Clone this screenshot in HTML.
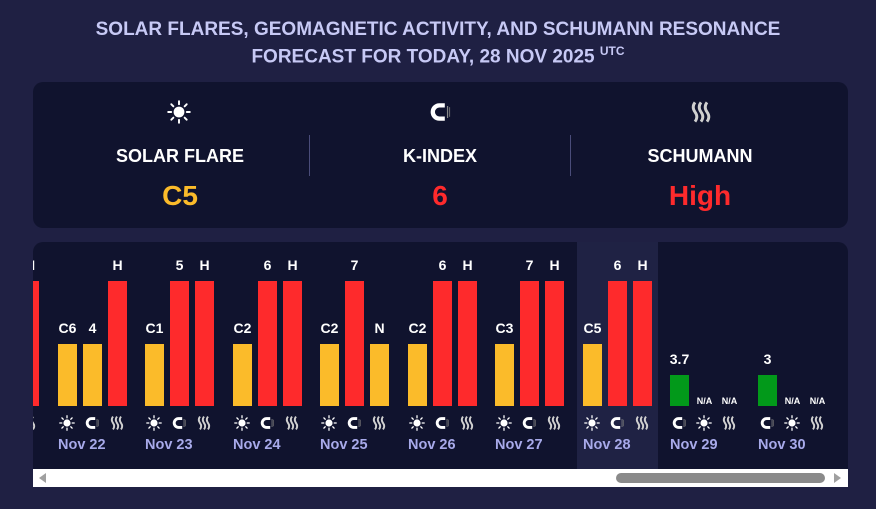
<!DOCTYPE html>
<html><head><style>
*{margin:0;padding:0;box-sizing:border-box}
body{width:876px;height:509px;background:#1f2043;font-family:"Liberation Sans",sans-serif;position:relative;overflow:hidden}
.a{position:absolute}
.t{position:absolute;left:0;width:876px;text-align:center;color:#c7c9f5;font-weight:bold;font-size:19px}
.p{position:absolute;background:#10132e}
.lab{position:absolute;color:#fff;font-weight:bold;font-size:14px;text-align:center;width:30px}
.na{position:absolute;color:#fff;font-weight:bold;font-size:9px;text-align:center;width:30px}
.bar{position:absolute;width:19px}
.y{background:#fbbb2a}.r{background:#fe2a2c}.g{background:#02991a}
.ic{position:absolute;width:20px;height:16px;top:415px}
.d{position:absolute;color:#a8aaea;font-weight:bold;font-size:14.5px;top:437px}
.hl{position:absolute;text-align:center;color:#fff;font-weight:bold;font-size:18px}
</style></head><body>
<svg width="0" height="0" style="position:absolute">
<defs>
<symbol id="sun" viewBox="0 0 20 20"><circle cx="10" cy="10" r="4.5" fill="#fff"/><g stroke="#fff" stroke-width="1.6" stroke-linecap="round"><line x1="10" y1="1" x2="10" y2="3.5"/><line x1="10" y1="16.5" x2="10" y2="19"/><line x1="1" y1="10" x2="3.5" y2="10"/><line x1="16.5" y1="10" x2="19" y2="10"/><line x1="3.6" y1="3.6" x2="5.3" y2="5.3"/><line x1="14.7" y1="14.7" x2="16.4" y2="16.4"/><line x1="3.6" y1="16.4" x2="5.3" y2="14.7"/><line x1="14.7" y1="5.3" x2="16.4" y2="3.6"/></g></symbol>
<symbol id="mag" viewBox="0 0 20 20"><path d="M14 4.5 H9.5 A5.5 5.5 0 0 0 9.5 15.5 H14" fill="none" stroke="#fff" stroke-width="3.6"/><line x1="16.3" y1="5" x2="16.3" y2="15" stroke="#888" stroke-width="1"/><line x1="18" y1="6" x2="18" y2="14" stroke="#777" stroke-width="0.8"/></symbol>
<symbol id="sch" viewBox="0 0 20 20"><g fill="none" stroke="#d0d0d0" stroke-width="2.4"><path d="M5 2 q-3 4 0 8 q3 4 0 8"/><path d="M10 2 q-3 4 0 8 q3 4 0 8"/><path d="M15 2 q-3 4 0 8 q3 4 0 8"/></g></symbol>
</defs></svg>
<div class="t" style="top:19px">SOLAR FLARES, GEOMAGNETIC ACTIVITY, AND SCHUMANN RESONANCE</div>
<div class="t" style="top:44px">FORECAST FOR TODAY, 28 NOV 2025 <sup style="font-size:12px">UTC</sup></div>

<div class="p" style="left:33px;top:82px;width:815px;height:146px;border-radius:10px"></div>
<div class="a" style="left:309px;top:135px;width:1px;height:41px;background:#4a4c7a"></div>
<div class="a" style="left:570px;top:135px;width:1px;height:41px;background:#4a4c7a"></div>
<svg class="a" style="left:167px;top:100px" width="24" height="24"><use href="#sun"/></svg>
<svg class="a" style="left:428px;top:100px" width="24" height="24"><use href="#mag"/></svg>
<svg class="a" style="left:689px;top:100px" width="24" height="24"><use href="#sch"/></svg>
<div class="hl" style="left:60px;width:240px;top:146px">SOLAR FLARE</div>
<div class="hl" style="left:320px;width:240px;top:146px">K-INDEX</div>
<div class="hl" style="left:580px;width:240px;top:146px">SCHUMANN</div>
<div class="hl" style="left:60px;width:240px;top:180px;font-size:28px;color:#fbbb2a">C5</div>
<div class="hl" style="left:320px;width:240px;top:180px;font-size:28px;color:#fe2a2c">6</div>
<div class="hl" style="left:580px;width:240px;top:180px;font-size:28px;color:#fe2a2c">High</div>

<div class="p" style="left:33px;top:242px;width:815px;height:227px;border-radius:10px 10px 0 0;overflow:hidden">
<div class="a" style="left:544px;top:0;width:81px;height:227px;background:#1f2244"></div>
<div class="bar r" style="left:0;top:39px;width:6px;height:125px"></div>
<div class="lab" style="left:-18px;top:15px">H</div>
<div class="ic" style="left:-14px;top:173px;width:20px"><svg width="20" height="16"><use href="#sch"/></svg></div>
</div>
<div id="g"></div>
<script>
var data=[["Nov 22",58,"C6","y",62,"4","y",62,"H","r",125],
["Nov 23",145,"C1","y",62,"5","r",125,"H","r",125],
["Nov 24",233,"C2","y",62,"6","r",125,"H","r",125],
["Nov 25",320,"C2","y",62,"7","r",125,"N","y",62],
["Nov 26",408,"C2","y",62,"6","r",125,"H","r",125],
["Nov 27",495,"C3","y",62,"7","r",125,"H","r",125],
["Nov 28",583,"C5","y",62,"6","r",125,"H","r",125]];
function ic(x,id){return '<svg class="ic" style="left:'+x+'px" width="20" height="16"><use href="#'+id+'"/></svg>';}
var h="";
data.forEach(function(d){var x=d[1];
for(var i=0;i<3;i++){var bx=x+25*i,ht=d[4+3*i];
h+='<div class="bar '+d[3+3*i]+'" style="left:'+bx+'px;top:'+(406-ht)+'px;height:'+ht+'px"></div>';
h+='<div class="lab" style="left:'+(bx-5.5)+'px;top:'+(406-ht-24)+'px">'+d[2+3*i]+'</div>';}
h+=ic(x-1,"sun")+ic(x+24,"mag")+ic(x+49,"sch");
h+='<div class="d" style="left:'+x+'px">'+d[0]+'</div>';});
[["Nov 29",670,"3.7"],["Nov 30",758,"3"]].forEach(function(d){var x=d[1];
h+='<div class="bar g" style="left:'+x+'px;top:375px;height:31px"></div>';
h+='<div class="lab" style="left:'+(x-5.5)+'px;top:351px">'+d[2]+'</div>';
h+='<div class="na" style="left:'+(x+19.5)+'px;top:396px">N/A</div><div class="na" style="left:'+(x+44.5)+'px;top:396px">N/A</div>';
h+=ic(x-1,"mag")+ic(x+24,"sun")+ic(x+49,"sch");
h+='<div class="d" style="left:'+x+'px">'+d[0]+'</div>';});
document.getElementById("g").innerHTML=h;
</script>
<div class="a" style="left:33px;top:469px;width:815px;height:18px;background:#fff"></div>
<div class="a" style="left:616px;top:473px;width:209px;height:10px;background:#8a8a8a;border-radius:5px"></div>
<div class="a" style="left:39px;top:473px;width:0;height:0;border-top:5px solid transparent;border-bottom:5px solid transparent;border-right:7px solid #a0a0a0"></div>
<div class="a" style="left:834px;top:473px;width:0;height:0;border-top:5px solid transparent;border-bottom:5px solid transparent;border-left:7px solid #a0a0a0"></div>
</body></html>
